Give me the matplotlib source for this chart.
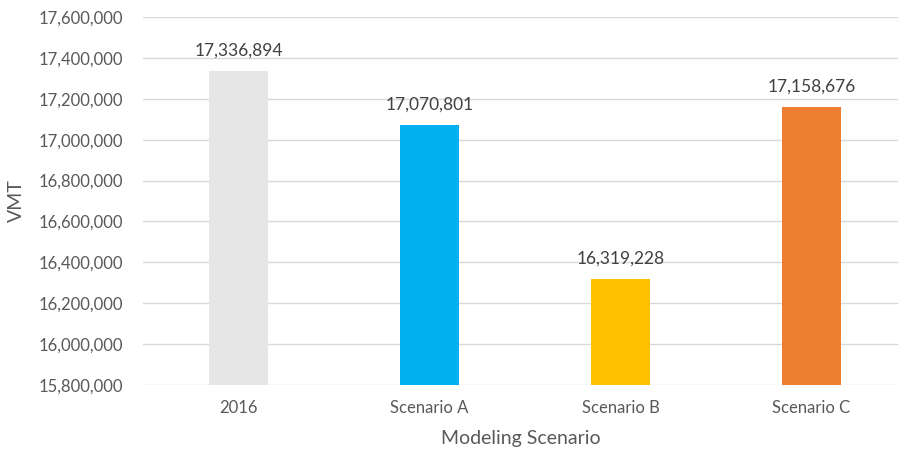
import matplotlib
matplotlib.use("Agg")
import matplotlib.pyplot as plt
from matplotlib.ticker import FuncFormatter, MultipleLocator

plt.rcParams['font.family'] = ['Lato', 'DejaVu Sans']

scenarios = ['2016', 'Scenario A', 'Scenario B', 'Scenario C']
vmt = [17336894, 17070801, 16319228, 17158676]
colors = ['#E7E6E6', '#00B0F0', '#FFC000', '#ED7D31']

text_color = '#595959'

fig = plt.figure(figsize=(8.98, 4.57), dpi=100)
ax = fig.add_axes([143 / 898, 1 - 385 / 457, 755 / 898, 368 / 457])

x = range(len(scenarios))
ax.bar(x, vmt, width=0.31, color=colors, zorder=2)

for xi, v in zip(x, vmt):
    ax.annotate(f'{v:,}', (xi, v), xytext=(0, 9), textcoords='offset points',
                ha='center', va='bottom', fontsize=12.5, color='#404040')

ax.set_ylim(15800000, 17600000)
ax.set_xlim(-0.5, 3.453)
ax.yaxis.set_major_locator(MultipleLocator(200000))
ax.yaxis.set_major_formatter(FuncFormatter(lambda v, p: f'{int(v):,}'))
ax.grid(axis='y', color='#D9D9D9', linewidth=1, zorder=0)

ax.set_xticks(list(x))
ax.set_xticklabels(scenarios)
ax.tick_params(axis='both', length=0, labelsize=12, colors=text_color)
ax.tick_params(axis='x', pad=11)
ax.tick_params(axis='y', pad=14)

for s in ax.spines.values():
    s.set_visible(False)

ax.set_xlabel('Modeling Scenario', fontsize=14, color=text_color, labelpad=10)
ax.set_ylabel('VMT', fontsize=14, color=text_color, labelpad=10)

fig.savefig('out.png', dpi=100)
